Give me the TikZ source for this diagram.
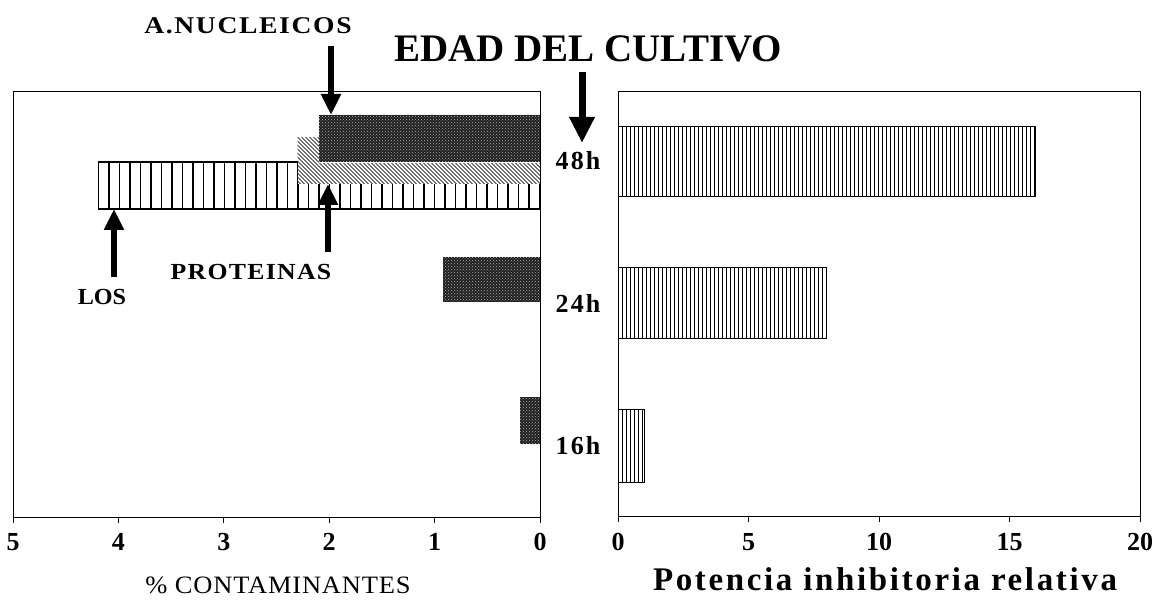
\documentclass[tikz,border=0pt]{standalone}
\usepackage{fontspec}
\setmainfont{Liberation Serif}
\usetikzlibrary{arrows.meta,patterns}
\newcommand\fsz[1]{\fontsize{#1}{#1}\selectfont}
\newcommand\lsp[1]{\addfontfeature{LetterSpace=#1}}
\tikzset{
  frame/.style={draw=black, line width=1pt},
  bigarrow/.style={line width=5.5pt, -{Triangle[width=19pt,length=21pt]}},
  agearrow/.style={line width=7pt, -{Triangle[width=24pt,length=26pt]}},
  ticklab/.style={anchor=base, inner sep=0pt, font=\fsz{26}\bfseries},
  rowlab/.style={anchor=base, inner sep=0pt, font=\fsz{26}\bfseries\lsp{8}},
  lab/.style={anchor=base, inner sep=0pt},
  darkbar/.style={fill=black!88},
  vline/.style={line width=1.8pt},
  fineline/.style={line width=1pt},
  hatchline/.style={line width=0.9pt, black!75},
}
\begin{document}
\begin{tikzpicture}[x=1pt,y=-1pt]
\useasboundingbox (0,0) rectangle (1159,601);
\fill[white] (0,0) rectangle (1159,601);

% ---------------- left panel: % contaminantes ----------------
% LOS bar (48h)
\draw[vline] (98.4,162) rectangle (540,209);
\foreach \k in {1,...,42} {\draw[vline] ({98.4+10.5*\k},162) -- ({98.4+10.5*\k},209);}
% PROTEINAS bar (48h)
\fill[white] (297.6,137) rectangle (540,184);
\begin{scope}
  \clip (297.6,137) rectangle (540,184);
  \foreach \k in {-14,...,62} {\draw[hatchline] ({297.6+4*\k},137) -- ({297.6+4*\k+47},184);}
\end{scope}
% A.NUCLEICOS bars
\fill[darkbar] (318.7,115) rectangle (540,162);
\fill[pattern=crosshatch dots, pattern color=white!70!black] (318.7,115) rectangle (540,162);
\draw[white, line width=1.2pt] (318.7,162.6) -- (540,162.6);
\fill[darkbar] (443,257) rectangle (540,302);
\fill[pattern=crosshatch dots, pattern color=white!70!black] (443,257) rectangle (540,302);
\fill[darkbar] (520,397) rectangle (540,444);
\fill[pattern=crosshatch dots, pattern color=white!70!black] (520,397) rectangle (540,444);

\draw[frame] (13,92) rectangle (540,517);
\foreach \v/\x in {5/13,4/118.4,3/223.8,2/329.2,1/434.6,0/540} {
  \draw[fineline] (\x,517) -- (\x,523);
  \node[ticklab] (lt\v) at (\x,550) {\v};
}

% ---------------- right panel: potencia inhibitoria ----------------
\foreach \t/\b/\v in {127/197/16, 268/339/8, 409/482/1} {
  \draw[fineline] (618,\t) rectangle ({618+26.1*\v},\b);
  \pgfmathtruncatemacro{\n}{floor(26.1*\v/4)}
  \foreach \k in {1,...,\n} {\draw[fineline] ({618+4*\k},\t) -- ({618+4*\k},\b);}
}
\draw[frame] (618,92) rectangle (1140,516);
\foreach \v/\x in {0/618,5/748.5,10/879,15/1009.5,20/1140} {
  \draw[fineline] (\x,516) -- (\x,522);
  \node[ticklab] (rt\v) at (\x,550) {\v};
}

% ---------------- row labels ----------------
\node[rowlab] (h48) at (578,170) {48h};
\node[rowlab] (h24) at (578,313) {24h};
\node[rowlab] (h16) at (578,454) {16h};

% ---------------- titles and labels ----------------
\node[lab, font=\fsz{39}\bfseries] (title) at (588,62) {EDAD DEL CULTIVO};
\node[lab, xscale=1.15, font=\fsz{24}\bfseries\lsp{6}] (nuc) at (248,34) {A.NUCLEICOS};
\node[lab, xscale=1.12, font=\fsz{23}\bfseries\lsp{5}] (prot) at (251,280) {PROTEINAS};
\node[lab, xscale=1.05, font=\fsz{23}\bfseries] (los) at (102,305) {LOS};
\node[lab, xscale=1.06, font=\fsz{25}\lsp{3}] (xl) at (278,593) {\% CONTAMINANTES};
\node[lab, font=\fsz{33}\bfseries\lsp{8}] (xr) at (885,590) {Potencia inhibitoria relativa};

% ---------------- arrows ----------------
\coordinate (nucS) at (331,46);  \coordinate (nucE) at (331,115);
\coordinate (proS) at (328,252); \coordinate (proE) at (328,184);
\coordinate (losS) at (114,277); \coordinate (losE) at (114,209);
\coordinate (ageS) at (582,72);  \coordinate (ageE) at (582,143);
\draw[bigarrow] (nucS) -- (nucE);
\draw[bigarrow] (proS) -- (proE);
\draw[bigarrow] (losS) -- (losE);
\draw[agearrow] (ageS) -- (ageE);
\end{tikzpicture}
\end{document}
